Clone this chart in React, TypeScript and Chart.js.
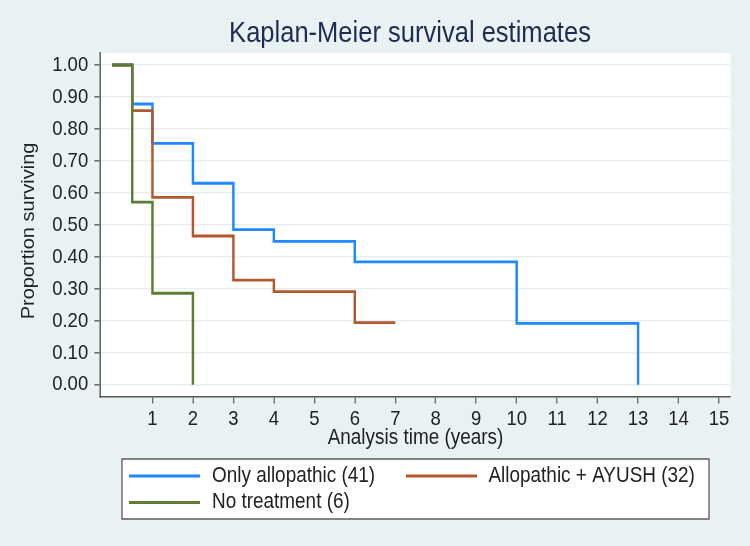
import { useEffect, useRef } from "react";
import { Chart, registerables } from "chart.js";

Chart.register(...registerables);

// ---- text ----
const TITLE = "Kaplan-Meier survival estimates";
const X_TITLE = "Analysis time (years)";
const Y_TITLE = "Proportion surviving";
const SERIES_LABELS = ["Only allopathic (41)", "Allopathic + AYUSH (32)", "No treatment (6)"];

// ---- ticks ----
const X_TICKS = [1, 2, 3, 4, 5, 6, 7, 8, 9, 10, 11, 12, 13, 14, 15];
const Y_TICKS = [0, 0.1, 0.2, 0.3, 0.4, 0.5, 0.6, 0.7, 0.8, 0.9, 1.0];

// ---- Kaplan-Meier step values (time in years, survival after that time) ----
const ALLO_TIMES = [0, 0.5, 1, 2, 3, 4, 6, 10, 13];
const ALLO_SURV = [1, 0.878, 0.755, 0.63, 0.485, 0.448, 0.384, 0.192, 0];

const AYUSH_TIMES = [0, 0.5, 1, 2, 3, 4, 6, 7];
const AYUSH_SURV = [1, 0.857, 0.586, 0.465, 0.327, 0.291, 0.194, 0.194];

const NONE_TIMES = [0, 0.5, 1, 2];
const NONE_SURV = [1, 0.571, 0.286, 0];

// ---- look ----
const SERIES_COLORS = ["#1E88FF", "#B3572E", "#5C7D33"];
const BG = "#EAF1F3";
const GRID = "#E6EEF1";
const AXIS = "#555555";
const INK = "#222222";
const TITLE_INK = "#1C2C52";
const FONT = '"Liberation Sans", Arial, Helvetica, sans-serif';

// The whole graph is drawn on a wider internal canvas and squeezed
// horizontally by SX, giving the narrow lettering of the exported graph.
const W = 750;
const H = 546;
const IW = 852;
const SX = W / IW;
const sx = (x: number) => x / SX;

const toPoints = (t: number[], s: number[]) => t.map((x, i) => ({ x, y: s[i] }));

const frame = {
  id: "stataFrame",
  beforeDraw(chart: any) {
    const { ctx, chartArea: a } = chart;
    ctx.save();
    ctx.scale(SX, 1);
    ctx.fillStyle = BG;
    ctx.fillRect(0, 0, IW, H);
    ctx.fillStyle = "#ffffff";
    ctx.fillRect(a.left, a.top, a.right - a.left, a.bottom - a.top);
  },
  afterDraw(chart: any) {
    const { ctx, chartArea: a } = chart;

    // title
    ctx.fillStyle = TITLE_INK;
    ctx.font = `29px ${FONT}`;
    ctx.textAlign = "center";
    ctx.textBaseline = "middle";
    ctx.fillText(TITLE, sx(410), 34);

    // axis titles
    ctx.fillStyle = INK;
    ctx.font = `21.5px ${FONT}`;
    ctx.fillText(X_TITLE, (a.left + a.right) / 2, 438);
    ctx.font = `20px ${FONT}`;
    ctx.save();
    ctx.translate(sx(29), 231);
    ctx.rotate(-Math.PI / 2);
    ctx.fillText(Y_TITLE, 0, 0);
    ctx.restore();

    // legend box
    const bx = sx(122);
    const by = 459;
    const bw = sx(709) - bx;
    const bh = 60;
    ctx.fillStyle = "#ffffff";
    ctx.fillRect(bx, by, bw, bh);
    ctx.strokeStyle = "#444444";
    ctx.lineWidth = 1.3;
    ctx.strokeRect(bx, by, bw, bh);

    const slots = [
      { lx: 129, tx: 212, y: 476 },
      { lx: 406, tx: 488.5, y: 476 },
      { lx: 129, tx: 212, y: 502.5 },
    ];
    ctx.font = `21.5px ${FONT}`;
    chart.data.datasets.forEach((ds: any, i: number) => {
      const s = slots[i];
      ctx.strokeStyle = ds.borderColor;
      ctx.lineWidth = ds.borderWidth;
      ctx.beginPath();
      ctx.moveTo(sx(s.lx), s.y);
      ctx.lineTo(sx(s.lx + 71), s.y);
      ctx.stroke();
      ctx.fillStyle = INK;
      ctx.textAlign = "left";
      ctx.textBaseline = "middle";
      ctx.fillText(ds.label, sx(s.tx), s.y);
    });

    ctx.restore();
  },
};

export default function App() {
  const ref = useRef<HTMLCanvasElement | null>(null);

  useEffect(() => {
    if (!ref.current) return;
    const series = [
      { times: ALLO_TIMES, surv: ALLO_SURV, order: 2 },
      { times: AYUSH_TIMES, surv: AYUSH_SURV, order: 1 },
      { times: NONE_TIMES, surv: NONE_SURV, order: 0 },
    ];
    const chart = new Chart(ref.current, {
      type: "line",
      data: {
        datasets: series.map((s, i) => ({
          label: SERIES_LABELS[i],
          data: toPoints(s.times, s.surv),
          borderColor: SERIES_COLORS[i],
          backgroundColor: SERIES_COLORS[i],
          borderWidth: 2.8,
          pointRadius: 0,
          stepped: "before" as const,
          fill: false,
          order: s.order,
        })),
      },
      options: {
        responsive: false,
        animation: false,
        devicePixelRatio: 1,
        events: [],
        layout: { padding: { left: 0, top: 53, right: IW - sx(730.5), bottom: 0 } },
        plugins: { legend: { display: false }, tooltip: { enabled: false }, title: { display: false } },
        scales: {
          x: {
            type: "linear",
            min: -0.284,
            max: 15.284,
            afterBuildTicks: (scale: any) => {
              scale.ticks = X_TICKS.map((v) => ({ value: v }));
            },
            afterFit: (scale: any) => {
              scale.height = H - 396.5;
            },
            ticks: {
              autoSkip: false,
              maxRotation: 0,
              padding: 3,
              color: INK,
              font: { family: FONT, size: 21 },
            },
            grid: { drawOnChartArea: false, drawTicks: true, tickLength: 7, tickColor: AXIS, tickWidth: 1.3 },
            border: { display: true, color: AXIS, width: 1.6 },
          },
          y: {
            type: "linear",
            min: -0.037,
            max: 1.0375,
            afterBuildTicks: (scale: any) => {
              scale.ticks = Y_TICKS.map((v) => ({ value: v }));
            },
            afterFit: (scale: any) => {
              scale.width = sx(100.5);
            },
            ticks: {
              autoSkip: false,
              padding: 7,
              color: INK,
              font: { family: FONT, size: 21 },
              callback: (v: any) => Number(v).toFixed(2),
            },
            grid: { color: GRID, lineWidth: 1.6, tickLength: 7, tickColor: AXIS, tickWidth: 1.3 },
            border: { display: true, color: AXIS, width: 1.6 },
          },
        },
      },
      plugins: [frame],
    });
    return () => chart.destroy();
  }, []);

  return (
    <div style={{ position: "fixed", left: 0, top: 0, width: W, height: H, overflow: "hidden", background: BG }}>
      <canvas ref={ref} width={IW} height={H} style={{ display: "block" }} />
    </div>
  );
}
